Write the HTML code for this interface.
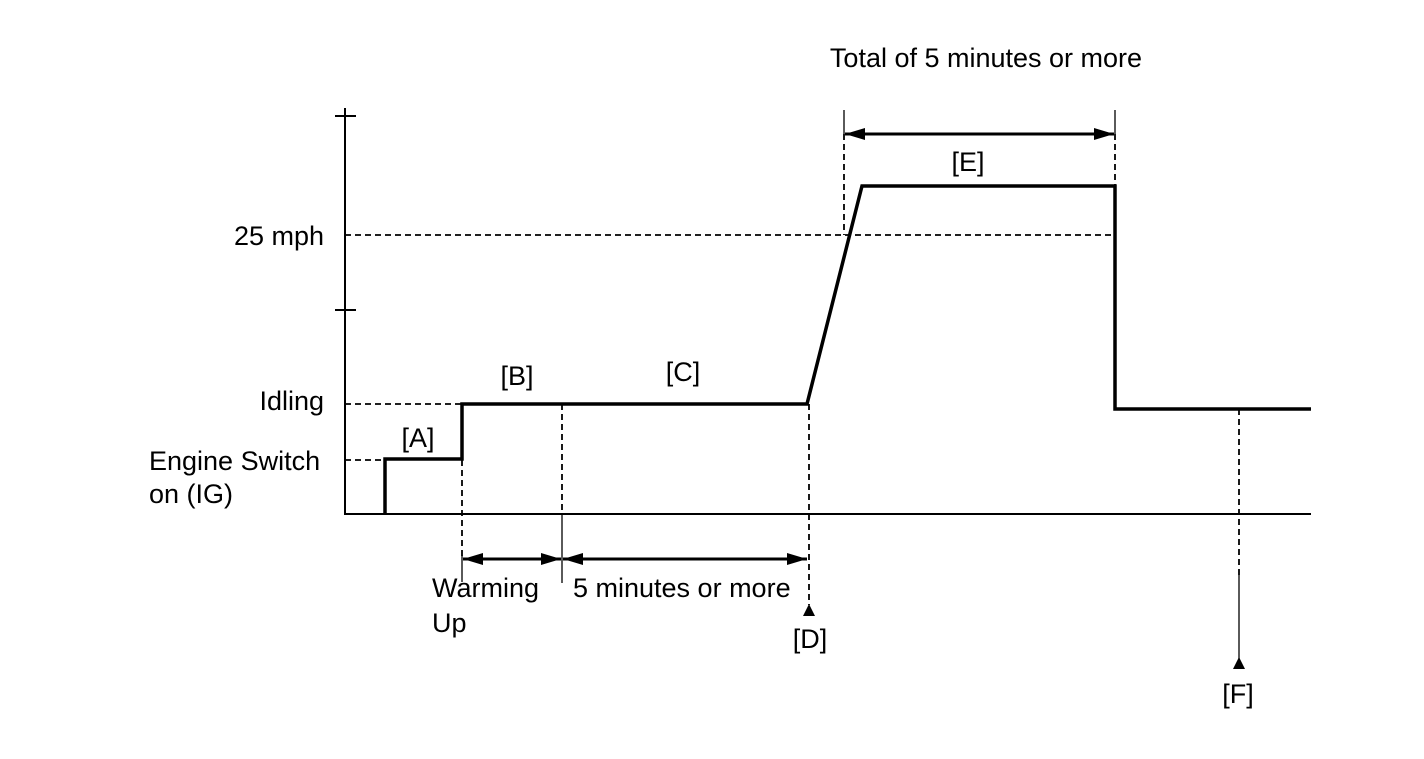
<!DOCTYPE html>
<html><head><style>body{margin:0;background:#fff}svg{display:block}text{font-family:"Liberation Sans",Arial,sans-serif;font-size:27px;fill:#000}</style></head>
<body>
<svg width="1424" height="759" viewBox="0 0 1424 759" xmlns="http://www.w3.org/2000/svg">
<defs>
<marker id="ah" viewBox="0 0 10 10" refX="10" refY="5" markerWidth="20" markerHeight="12" markerUnits="userSpaceOnUse" orient="auto-start-reverse" preserveAspectRatio="none"><path d="M0,0 L10,5 L0,10 z" fill="#000"/></marker>
</defs>
<g stroke="#000" fill="none">
<line x1="345" y1="108" x2="345" y2="515" stroke-width="2"/>
<line x1="344" y1="514" x2="1311" y2="514" stroke-width="2"/>
<line x1="335" y1="116" x2="356" y2="116" stroke-width="2"/>
<line x1="335" y1="310" x2="356" y2="310" stroke-width="2"/>
<g stroke-width="1.8" stroke-dasharray="6,4">
<line x1="345" y1="235" x2="1115" y2="235"/>
<line x1="345" y1="404" x2="462" y2="404"/>
<line x1="345" y1="460" x2="385" y2="460"/>
<line x1="462" y1="460" x2="462" y2="560"/>
<line x1="562" y1="404" x2="562" y2="514"/>
<line x1="809" y1="404" x2="809" y2="605"/>
<line x1="844" y1="134" x2="844" y2="235"/>
<line x1="1115" y1="134" x2="1115" y2="186"/>
<line x1="1239" y1="409" x2="1239" y2="575"/>
</g>
<g stroke-width="1.3">
<line x1="462" y1="555" x2="462" y2="582"/>
<line x1="562" y1="514" x2="562" y2="583"/>
<line x1="844" y1="110" x2="844" y2="134"/>
<line x1="1115" y1="110" x2="1115" y2="134"/>
<line x1="1239" y1="575" x2="1239" y2="660"/>
</g>
<polyline points="385,514 385,459 462,459 462,404 807,404 862,186 1115,186 1115,409 1311,409" stroke-width="3.5" stroke-linejoin="miter"/>
<g stroke-width="3">
<line x1="463" y1="559" x2="561" y2="559" marker-start="url(#ah)" marker-end="url(#ah)"/>
<line x1="563" y1="559" x2="807" y2="559" marker-start="url(#ah)" marker-end="url(#ah)"/>
<line x1="845" y1="134" x2="1114" y2="134" marker-start="url(#ah)" marker-end="url(#ah)"/>
</g>
</g>
<polygon points="809,604 803,616 815,616" fill="#000"/>
<polygon points="1239,657 1233,669 1245,669" fill="#000"/>
<text x="986" y="67" text-anchor="middle">Total of 5 minutes or more</text>
<text x="324" y="245" text-anchor="end">25 mph</text>
<text x="324" y="410" text-anchor="end">Idling</text>
<text x="149" y="470">Engine Switch</text>
<text x="149" y="503">on (IG)</text>
<text x="418" y="447" text-anchor="middle">[A]</text>
<text x="517" y="385" text-anchor="middle">[B]</text>
<text x="683" y="381" text-anchor="middle">[C]</text>
<text x="968" y="171" text-anchor="middle">[E]</text>
<text x="432" y="597">Warming</text>
<text x="432" y="632">Up</text>
<text x="573" y="597">5 minutes or more</text>
<text x="810" y="648" text-anchor="middle">[D]</text>
<text x="1238" y="703" text-anchor="middle">[F]</text>
</svg>
</body></html>
